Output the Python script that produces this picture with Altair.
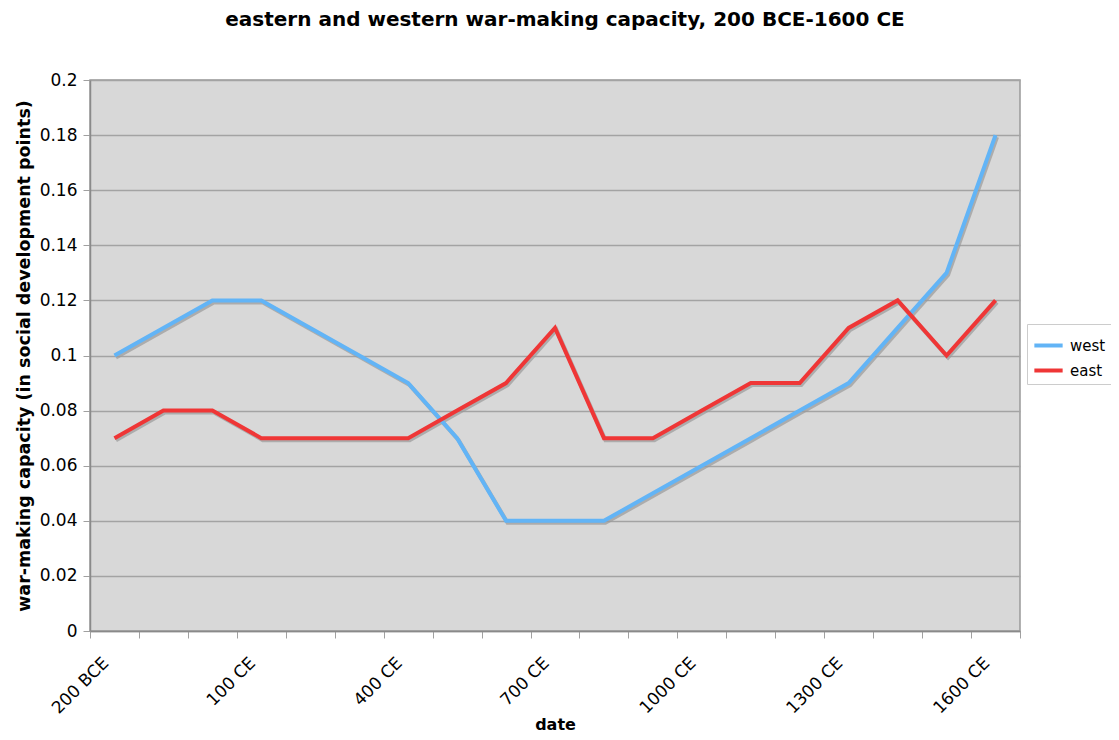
import json
import altair as alt
import pandas as pd

dates = ["200 BCE", "100 BCE", "1 CE", "100 CE", "200 CE", "300 CE", "400 CE",
         "500 CE", "600 CE", "700 CE", "800 CE", "900 CE", "1000 CE", "1100 CE",
         "1200 CE", "1300 CE", "1400 CE", "1500 CE", "1600 CE"]
shown_labels = ["200 BCE", "100 CE", "400 CE", "700 CE", "1000 CE", "1300 CE", "1600 CE"]
west = [0.10, 0.11, 0.12, 0.12, 0.11, 0.10, 0.09, 0.07, 0.04, 0.04, 0.04,
        0.05, 0.06, 0.07, 0.08, 0.09, 0.11, 0.13, 0.18]
east = [0.07, 0.08, 0.08, 0.07, 0.07, 0.07, 0.07, 0.08, 0.09, 0.11, 0.07,
        0.07, 0.08, 0.09, 0.09, 0.11, 0.12, 0.10, 0.12]
series_names = ["west", "east"]
series_colors = ["#62b4f6", "#ef3636"]
y_ticks = [0, 0.02, 0.04, 0.06, 0.08, 0.1, 0.12, 0.14, 0.16, 0.18, 0.2]

rows = []
for name, vals in zip(series_names, [west, east]):
    for i, (d, v) in enumerate(zip(dates, vals)):
        rows.append({"date": d, "order": i, "series": name, "value": v})
df = pd.DataFrame(rows)

FONT = "DejaVu Sans"
label_expr = "indexof(" + json.dumps(shown_labels) + ", datum.value) >= 0 ? datum.value : ''"

x_enc = alt.X(
    "date:O", sort=dates,
    scale=alt.Scale(type="band", paddingInner=0, paddingOuter=0),
    axis=alt.Axis(
        title="date", labelAngle=315, labelAlign="right", labelBaseline="middle",
        labelExpr=label_expr, tickBand="extent", tickSize=7, tickColor="#a0a0a0",
        domainColor="#8a8a8a", domainWidth=1.5, labelFontSize=17, labelFont=FONT,
        labelColor="black", labelPadding=22, labelOffset=-9, titleFont=FONT,
        titleFontSize=16, titleFontWeight="bold", titleColor="black",
        titleY=98, titleBaseline="alphabetic", grid=False, labelOverlap=False,
    ),
)
y_enc = alt.Y(
    "value:Q",
    scale=alt.Scale(domain=[0, 0.2], nice=False),
    axis=alt.Axis(
        title="war-making capacity (in social development points)", values=y_ticks,
        format="~g", grid=True, gridColor="#a3a3a3", gridWidth=1.5, tickSize=7,
        tickColor="#a0a0a0", domainColor="#8a8a8a", domainWidth=1.5,
        labelFontSize=17, labelFont=FONT, labelColor="black", labelPadding=6,
        titleFont=FONT, titleFontSize=17.5, titleFontWeight="bold", titleColor="black",
        titlePadding=6,
    ),
)

shadow = alt.Chart(df).mark_line(
    strokeWidth=4, color="#9a9a9a", opacity=0.7, xOffset=1.5, yOffset=2
).encode(x=x_enc, y=y_enc, detail="series:N", order="order:Q")

lines = alt.Chart(df).mark_line(strokeWidth=4).encode(
    x=x_enc, y=y_enc,
    color=alt.Color(
        "series:N",
        scale=alt.Scale(domain=series_names, range=series_colors),
        legend=alt.Legend(
            title=None, orient="none", legendX=937, legendY=244,
            strokeColor="#cccccc", padding=5, symbolType="stroke",
            symbolStrokeWidth=4, symbolSize=800, labelFontSize=15, labelFont=FONT,
            labelColor="black", rowPadding=0, labelOffset=5,
        ),
    ),
    order="order:Q",
)

chart = alt.layer(shadow, lines).properties(
    width=930, height=551,
    title=alt.TitleParams(
        "eastern and western war-making capacity, 200 BCE-1600 CE",
        font=FONT, fontSize=20, fontWeight="bold", color="black",
        anchor="middle", offset=41, dx=10,
    ),
    autosize=alt.AutoSizeParams(type="none"),
    padding={"left": 82, "top": 72, "right": 91, "bottom": 101},
).configure_view(fill="#d8d8d8", stroke="#999999", strokeWidth=1.5)

chart.save("out.html", embed_options={"renderer": "svg", "actions": False})
